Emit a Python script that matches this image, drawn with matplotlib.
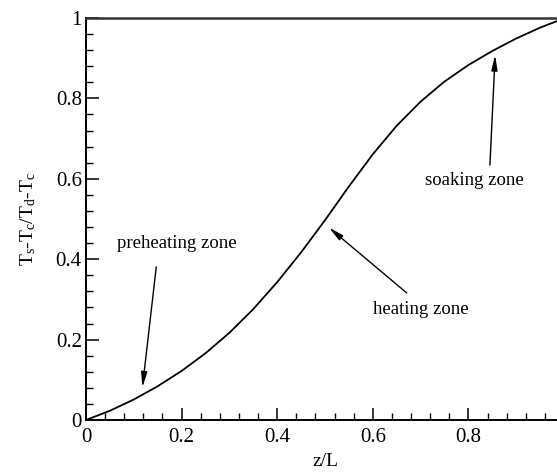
import matplotlib
matplotlib.use("Agg")
import matplotlib.pyplot as plt
from matplotlib.ticker import MultipleLocator

plt.rcParams['font.family'] = ['Liberation Serif', 'DejaVu Serif']
plt.rcParams['mathtext.fontset'] = 'custom'
plt.rcParams['mathtext.rm'] = 'Liberation Serif'
plt.rcParams['mathtext.it'] = 'Liberation Serif'

z = [0.0, 0.05, 0.1, 0.15, 0.2, 0.25, 0.3, 0.35, 0.4, 0.45, 0.5,
     0.55, 0.6, 0.65, 0.7, 0.75, 0.8, 0.85, 0.9, 0.95, 1.0]
theta = [0.0, 0.023, 0.051, 0.084, 0.122, 0.166, 0.217, 0.276, 0.343, 0.417, 0.497,
         0.581, 0.661, 0.732, 0.792, 0.842, 0.883, 0.918, 0.949, 0.976, 0.999]

x_ticks = [0, 0.2, 0.4, 0.6, 0.8]
x_tick_labels = ['0', '0.2', '0.4', '0.6', '0.8']
y_ticks = [0, 0.2, 0.4, 0.6, 0.8, 1.0]
y_tick_labels = ['0', '0.2', '0.4', '0.6', '0.8', '1']

zone_labels = ['preheating zone', 'heating zone', 'soaking zone']
zone_tips = [(0.118, 0.081), (0.508, 0.479), (0.856, 0.908)]
zone_tails = [(0.147, 0.381), (0.671, 0.316), (0.845, 0.634)]
zone_text = [(0.19, 0.438), (0.701, 0.274), (0.812, 0.597)]

fig = plt.figure(figsize=(5.57, 4.76), dpi=100)
ax = fig.add_axes([86/557, 56/476, 478/557, 402/476])

ax.plot(z, theta, color='black', lw=1.3, solid_joinstyle='round')

ax.set_xlim(0, 1)
ax.set_ylim(0, 1)
ax.set_xticks(x_ticks)
ax.set_xticklabels(x_tick_labels)
ax.set_yticks(y_ticks)
ax.set_yticklabels(y_tick_labels)
ax.xaxis.set_minor_locator(MultipleLocator(0.04))
ax.yaxis.set_minor_locator(MultipleLocator(0.04))
ax.tick_params(which='major', direction='in', length=9, width=1.1, labelsize=15,
               top=False, right=False)
ax.tick_params(which='minor', direction='in', length=5, width=1.0,
               top=False, right=False)
ax.tick_params(axis='x', pad=6)
ax.tick_params(axis='y', pad=3)
for s in ax.spines.values():
    s.set_linewidth(1.4)
ax.spines['top'].set_color('#333333')
ax.spines['top'].set_linewidth(1.8)

ax.set_xlabel('z/L', fontsize=14, labelpad=4)
ax.set_ylabel(r'T$_\mathregular{s}$-T$_\mathregular{c}$/T$_\mathregular{d}$-T$_\mathregular{c}$',
              fontsize=14, labelpad=13)

for lab, tip, tail, tp in zip(zone_labels, zone_tips, zone_tails, zone_text):
    ax.annotate('', xy=tip, xytext=tail,
                arrowprops=dict(arrowstyle='-|>,head_length=0.9,head_width=0.18',
                                color='black', lw=1.0, shrinkA=0, shrinkB=0))
    ax.text(tp[0], tp[1], lab, ha='center', va='center', fontsize=13.5)

fig.savefig('out.png', dpi=100)
